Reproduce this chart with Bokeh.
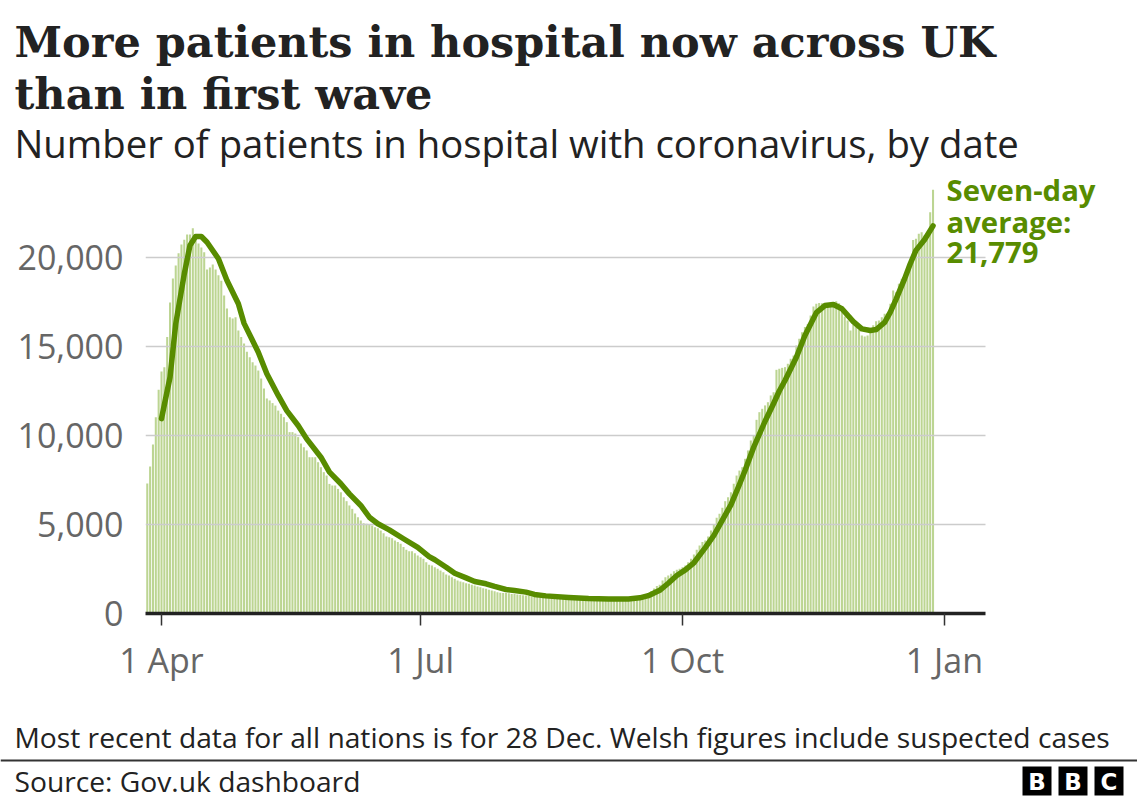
import pandas as pd
from bokeh.plotting import figure
from bokeh.layouts import column
from bokeh.models import (ColumnDataSource, FixedTicker, Label, NumeralTickFormatter,
                          Range1d, BoxAnnotation)
from bokeh.embed import file_html
from bokeh.resources import INLINE

# Daily number of patients in hospital with coronavirus (UK), from 27 Mar 2020
first_day = "2020-03-27"
patients = [
    7300, 8260, 9500, 11030, 12570, 13600, 13840, 15530, 17470, 18820,
    19550, 20240, 20730, 21000, 21290, 21290, 21650, 20950, 20780, 20560,
    20300, 19330, 19440, 19610, 19330, 19000, 18700, 17870, 17130, 16650,
    16570, 16650, 15900, 15530, 15170, 14700, 14400, 14120, 13930, 13650,
    13200, 12640, 12080, 11970, 11820, 11680, 11400, 11220, 11030, 10750,
    10190, 10190, 10110, 9910, 9550, 9340, 9160, 8780, 8780, 8780,
    8500, 8220, 7940, 7750, 7280, 7190, 7190, 7000, 6810, 6530,
    6310, 6070, 5880, 5620, 5410, 5220, 5070, 5040, 4980, 4940,
    4850, 4790, 4660, 4510, 4330, 4290, 4230, 4100, 4010, 3920,
    3730, 3580, 3500, 3500, 3390, 3260, 3160, 3070,
    2880, 2735, 2700, 2600, 2510, 2415, 2320, 2190, 2135, 2040,
    1950, 1850, 1800, 1760, 1700, 1670, 1610, 1570, 1520, 1480,
    1420, 1390, 1330, 1290, 1250, 1200, 1160, 1150, 1150, 1140,
    1100, 1100, 1070, 1050, 1030, 1010, 990, 955, 940, 920,
    900, 880, 880,
    870, 860, 860, 850, 845, 840, 830, 830, 820, 815,
    810, 805, 800, 800, 795, 790, 790, 785, 780, 780,
    780, 775, 780, 785, 790, 795, 800, 810, 820, 830, 845, 860,
    850, 880, 955, 1100, 1250, 1400, 1540,
    1620, 1850, 2040, 2135, 2230, 2380, 2455, 2510, 2600, 2700,
    2880, 3070, 3310, 3580, 3820, 4010, 4100, 4330, 4660, 5000,
    5380, 5600, 5940, 6310, 6530, 6810, 7290, 7750, 8030, 8220,
    8690, 9160, 9720, 10000, 10880, 11310, 11500, 11690, 11870, 12250,
    12430,
    13690, 13750, 13800, 13840, 14030, 14310, 14500, 15060, 15430, 15800,
    16090, 16270, 16740, 17250, 17400, 17450, 17430, 17300, 17400, 17250,
    17490, 17540, 17430, 17020, 16690, 16460, 15900, 16240, 16090, 15940,
    15620, 15560, 15620,
    15900, 16200, 16420, 16460, 16650, 16840, 16870, 17400, 18150, 18050,
    18520, 18800, 18990, 19360, 19830, 20990, 21050, 21330, 21420, 21240,
    21330, 22540, 23800,
]

# Seven-day average
avg_dates = [
    "2020-04-01", "2020-04-04", "2020-04-06", "2020-04-09", "2020-04-11",
    "2020-04-13", "2020-04-15", "2020-04-17", "2020-04-21", "2020-04-24",
    "2020-04-28", "2020-04-30", "2020-05-05", "2020-05-08", "2020-05-12",
    "2020-05-15", "2020-05-19", "2020-05-22", "2020-05-27", "2020-05-30",
    "2020-06-03", "2020-06-06", "2020-06-10", "2020-06-13", "2020-06-16",
    "2020-06-20", "2020-06-25", "2020-06-30", "2020-07-04", "2020-07-06",
    "2020-07-10", "2020-07-13", "2020-07-17", "2020-07-20", "2020-07-24",
    "2020-07-27", "2020-07-31", "2020-08-03", "2020-08-07", "2020-08-10",
    "2020-08-14", "2020-08-22", "2020-08-29", "2020-09-05", "2020-09-12",
    "2020-09-16", "2020-09-19", "2020-09-21", "2020-09-23", "2020-09-26",
    "2020-09-29", "2020-10-02", "2020-10-05", "2020-10-09", "2020-10-12",
    "2020-10-15", "2020-10-18", "2020-10-21", "2020-10-23", "2020-10-26",
    "2020-10-30", "2020-11-02", "2020-11-04", "2020-11-06", "2020-11-10",
    "2020-11-13", "2020-11-17", "2020-11-20", "2020-11-23", "2020-11-26",
    "2020-11-30", "2020-12-03", "2020-12-06", "2020-12-08", "2020-12-11",
    "2020-12-13", "2020-12-15", "2020-12-18", "2020-12-20", "2020-12-22",
    "2020-12-25", "2020-12-28",
]
avg_values = [
    10950, 13280, 16270, 19080, 20670, 21180, 21180, 20860, 19930, 18710,
    17400, 16300, 14680, 13470, 12250, 11400, 10560, 9810, 8780, 7940,
    7290, 6720, 6070, 5410, 5040, 4700, 4200, 3720, 3200, 3020,
    2600, 2260, 2000, 1800, 1670, 1520, 1350, 1290, 1200, 1070,
    990, 900, 840, 810, 820, 880, 1000, 1150, 1300, 1700,
    2135, 2450, 2850, 3700, 4380, 5250, 6100, 7250, 8050, 9340,
    10800, 11800, 12500, 13090, 14400, 15620, 16900, 17300, 17360, 17120,
    16400, 15990, 15900, 15950, 16350, 16930, 17650, 18800, 19650, 20400,
    21000, 21779,
]

y_ticks = [0, 5000, 10000, 15000, 20000]
x_tick_dates = ["2020-04-01", "2020-07-01", "2020-10-01", "2021-01-01"]
x_tick_labels = ["1 Apr", "1 Jul", "1 Oct", "1 Jan"]

GREEN = "#588c00"
BAR = "#bcd592"
GREY_TEXT = "#666666"
DARK = "#222222"
SANS = "Open Sans"
W = 1137

DAY = 86400000
dates = pd.date_range(first_day, periods=len(patients), freq="D")
bars = ColumnDataSource(dict(date=dates, patients=patients))
avg = ColumnDataSource(dict(date=pd.to_datetime(avg_dates), value=avg_values))

# horizontal scale: 1 Apr sits 16 px right of the frame edge, 2.847 px per day
start = pd.Timestamp(x_tick_dates[0])
PX_PER_DAY = 2.847
x_start = start - pd.Timedelta(days=16 / PX_PER_DAY)
x_end = start + pd.Timedelta(days=(W - 145 - 16) / PX_PER_DAY)
axis_end = start + pd.Timedelta(days=(985 - 145 - 16) / PX_PER_DAY)


def no_frame_align(fig):
    # keep each figure's frame where its own borders put it
    if "frame_align" in fig.properties():
        fig.frame_align = False


def blank(height):
    """A figure whose frame is the whole canvas, used for free text."""
    f = figure(width=W, height=height, x_range=Range1d(0, W), y_range=Range1d(0, height),
               output_backend="svg", toolbar_location=None,
               x_axis_location=None, y_axis_location=None, min_border=0)
    f.outline_line_color = None
    f.grid.visible = False
    no_frame_align(f)
    return f


def add_text(fig, text, x, y, size, color=DARK, font=SANS, style="normal",
             align="left", baseline="alphabetic"):
    fig.add_layout(Label(x=x, y=y, x_units="screen", y_units="screen",
                         text=text, text_font=font, text_font_size=size,
                         text_font_style=style, text_color=color,
                         text_align=align, text_baseline=baseline))


# ---- header (anchor rows counted from the top) ---------------------------
HEAD_H = 167
head = blank(HEAD_H)
add_text(head, "More patients in hospital now across UK", 14, HEAD_H - 41, "43px",
         font="DejaVu Serif", style="bold")
add_text(head, "than in first wave", 14, HEAD_H - 93, "43px",
         font="DejaVu Serif", style="bold")
add_text(head, "Number of patients in hospital with coronavirus, by date", 14, HEAD_H - 142,
         "38.3px")

# ---- chart --------------------------------------------------------------
MAIN_TOP = HEAD_H
FOOT_TOP = 712
MAIN_H = FOOT_TOP - MAIN_TOP
BASE_Y = 613                      # canvas y of the zero line
frame_h = BASE_Y - MAIN_TOP
y_max = frame_h / 0.0178

p = figure(width=W, height=MAIN_H, x_axis_type="datetime",
           x_range=Range1d(x_start, x_end), y_range=Range1d(0, y_max),
           output_backend="svg", toolbar_location=None,
           min_border_left=145, min_border_right=0,
           min_border_top=0, min_border_bottom=MAIN_H - frame_h)
p.outline_line_color = None
p.background_fill_color = "white"
p.border_fill_color = "white"
p.grid.visible = False
no_frame_align(p)

# horizontal gridlines, stopping where the axis stops
grid = ColumnDataSource(dict(x0=[x_start] * (len(y_ticks) - 1),
                             x1=[axis_end] * (len(y_ticks) - 1),
                             y=y_ticks[1:]))

p.vbar(x="date", top="patients", width=0.72 * DAY, source=bars,
       fill_color=BAR, line_color=None)
p.segment(x0="x0", x1="x1", y0="y", y1="y", source=grid,
          line_color="#cccccc", line_width=1.5)
p.line(x="date", y="value", source=avg, line_color=GREEN, line_width=5.5,
       line_join="round", line_cap="round")

p.yaxis.ticker = FixedTicker(ticks=y_ticks)
p.yaxis.formatter = NumeralTickFormatter(format="0,0")
p.yaxis.axis_line_color = None
p.yaxis.major_tick_line_color = None
p.yaxis.minor_tick_line_color = None
p.yaxis.major_label_text_font = SANS
p.yaxis.major_label_text_font_size = "34px"
p.yaxis.major_label_text_color = GREY_TEXT
p.yaxis.major_label_standoff = 16

tick_ms = [int(pd.Timestamp(d).value // 10**6) for d in x_tick_dates]
p.xaxis.bounds = (x_start, axis_end)
p.xaxis.ticker = FixedTicker(ticks=tick_ms)
p.xaxis.major_label_overrides = {t: lab for t, lab in zip(tick_ms, x_tick_labels)}
p.xaxis.axis_line_color = DARK
p.xaxis.axis_line_width = 3.5
p.xaxis.major_tick_line_color = "#333333"
p.xaxis.major_tick_line_width = 1.5
p.xaxis.major_tick_in = 0
p.xaxis.major_tick_out = 12
p.xaxis.minor_tick_line_color = None
p.xaxis.major_label_text_font = SANS
p.xaxis.major_label_text_font_size = "34px"
p.xaxis.major_label_text_color = GREY_TEXT
p.xaxis.major_label_standoff = 11

# latest seven-day average, beside the end of the line (frame-relative pixels)
for text, y in [("Seven-day", 189), ("average:", 221), (f"{avg_values[-1]:,}", 252)]:
    add_text(p, text, 946 - 145, BASE_Y - y, "29.3px", color=GREEN, style="bold")

# ---- footer -------------------------------------------------------------
FOOT_H = 800 - FOOT_TOP
foot = blank(FOOT_H)


def fy(y):
    return FOOT_H - (y - FOOT_TOP)


add_text(foot, "Most recent data for all nations is for 28 Dec. Welsh figures include suspected cases",
         14, fy(736), "28.2px")
foot.add_layout(BoxAnnotation(left=0, right=W, top=fy(759), bottom=fy(761),
                              left_units="screen", right_units="screen",
                              top_units="screen", bottom_units="screen",
                              fill_color="#333333", fill_alpha=1, line_color=None))
add_text(foot, "Source: Gov.uk dashboard", 14, fy(780), "28.2px")

for i, letter in enumerate("BBC"):
    left = 1022 + i * 36
    foot.add_layout(BoxAnnotation(left=left, right=left + 29, top=fy(766), bottom=fy(795),
                                  left_units="screen", right_units="screen",
                                  top_units="screen", bottom_units="screen",
                                  fill_color="#000000", fill_alpha=1, line_color=None))
    add_text(foot, letter, left + 14.5, fy(781), "23px", color="white", font="DejaVu Sans",
             style="bold", align="center", baseline="middle")

layout = column(head, p, foot, spacing=0)
open("out.html", "w").write(file_html(layout, INLINE))
